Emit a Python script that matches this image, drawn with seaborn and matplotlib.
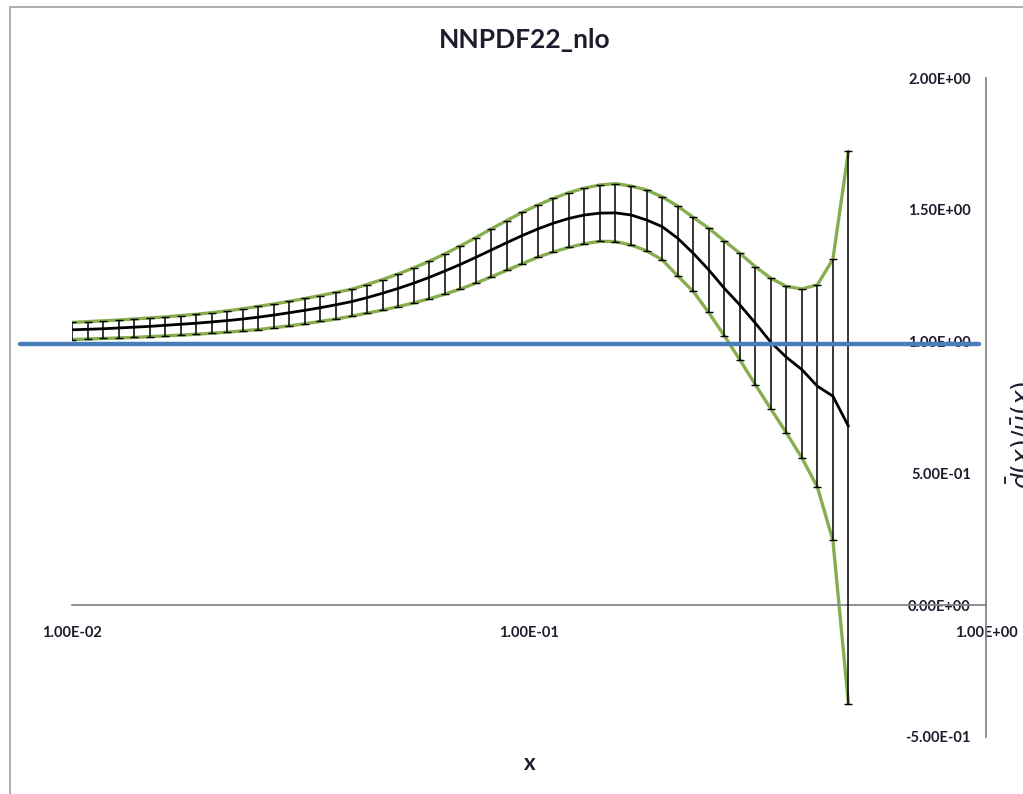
import numpy as np
import pandas as pd
import matplotlib
matplotlib.use("Agg")
import matplotlib.pyplot as plt
import seaborn as sns
from matplotlib.ticker import FixedLocator, FuncFormatter, NullLocator
from matplotlib.lines import Line2D

# ---------------- data ----------------
x_vals = [0.01, 0.010814, 0.011694, 0.012645, 0.013675, 0.014788, 0.015991, 0.017292, 0.018700, 0.020222,
          0.021867, 0.023647, 0.025571, 0.027652, 0.029902, 0.032336, 0.034967, 0.037813, 0.040890, 0.044218,
          0.047818, 0.051709, 0.055917, 0.060468, 0.065389, 0.070710, 0.076465, 0.082687, 0.089416, 0.096693,
          0.104564, 0.113074, 0.122276, 0.132227, 0.142987, 0.154624, 0.167207, 0.180815, 0.195529, 0.211441,
          0.228652, 0.247260, 0.267382, 0.289141, 0.312672, 0.338117, 0.365634, 0.395389, 0.427566, 0.462361,
          0.5]
central = [1.045, 1.047, 1.049, 1.052, 1.055, 1.058, 1.062, 1.066, 1.070, 1.075,
           1.080, 1.086, 1.093, 1.101, 1.110, 1.119, 1.129, 1.140, 1.152, 1.167,
           1.184, 1.202, 1.222, 1.244, 1.268, 1.293, 1.320, 1.348, 1.376, 1.403,
           1.428, 1.450, 1.468, 1.481, 1.488, 1.489, 1.481, 1.462, 1.437, 1.393,
           1.336, 1.273, 1.203, 1.140, 1.071, 0.998, 0.941, 0.894, 0.831, 0.793,
           0.679]
upper = [1.073, 1.076, 1.079, 1.082, 1.086, 1.090, 1.094, 1.099, 1.104, 1.110,
         1.117, 1.125, 1.134, 1.143, 1.153, 1.164, 1.175, 1.187, 1.199, 1.217,
         1.236, 1.257, 1.280, 1.305, 1.333, 1.363, 1.395, 1.428, 1.460, 1.491,
         1.519, 1.544, 1.566, 1.583, 1.595, 1.600, 1.591, 1.576, 1.550, 1.515,
         1.472, 1.431, 1.383, 1.336, 1.285, 1.241, 1.210, 1.200, 1.216, 1.313,
         1.723]
lower = [1.008, 1.010, 1.012, 1.014, 1.016, 1.019, 1.022, 1.025, 1.028, 1.032,
         1.036, 1.041, 1.046, 1.053, 1.060, 1.068, 1.077, 1.086, 1.097, 1.108,
         1.120, 1.133, 1.147, 1.163, 1.180, 1.200, 1.222, 1.246, 1.271, 1.296,
         1.321, 1.341, 1.358, 1.372, 1.381, 1.380, 1.367, 1.345, 1.311, 1.250,
         1.191, 1.111, 1.023, 0.932, 0.837, 0.745, 0.654, 0.559, 0.448, 0.246,
         -0.375]
ref_x = [0.0077, 0.965]
ref_y = [0.99, 0.99]
x_ticks = [0.01, 0.1, 1.0]
y_ticks = [-0.5, 0.0, 0.5, 1.0, 1.5, 2.0]
title = "NNPDF22_nlo"
xlabel = "x"
ylabel = r"$\bar{d}(x)/\bar{u}(x)$"

# ---------------- style ----------------
sns.set_theme(style="white")
plt.rcParams['font.family'] = ['Lato', 'DejaVu Sans']

W, H = 1023, 794
fig = plt.figure(figsize=(W / 100, H / 100), dpi=100)
fig.patch.set_facecolor('white')
ax = fig.add_axes([72 / W, 1 - 736.7 / H, (986 - 72) / W, (736.7 - 78.3) / H])
ax.set_facecolor('none')

df = pd.DataFrame({'x': x_vals, 'central': central, 'upper': upper, 'lower': lower})
green = '#88AD4E'
sns.lineplot(data=df, x='x', y='upper', color=green, lw=2.4, ax=ax, zorder=2)
sns.lineplot(data=df, x='x', y='lower', color=green, lw=2.4, ax=ax, zorder=2)
yerr = [df['central'] - df['lower'], df['upper'] - df['central']]
ax.errorbar(df['x'], df['central'], yerr=yerr, fmt='none', ecolor='black',
            elinewidth=1.1, capsize=2.8, capthick=1.0, zorder=3)
sns.lineplot(data=df, x='x', y='central', color='black', lw=2.0, ax=ax, zorder=4)
ref = pd.DataFrame({'x': ref_x, 'y': ref_y})
sns.lineplot(data=ref, x='x', y='y', color='#4A7EBB', lw=3.2, ax=ax, zorder=5, clip_on=False)

ax.set_xscale('log')
ax.set_xlim(0.01, 1.0)
ax.set_ylim(-0.5, 2.0)
ax.set_xlabel('')
ax.set_ylabel('')
ax.grid(False)

axis_col = '#868686'
for s in ['top', 'right']:
    ax.spines[s].set_visible(False)
ax.spines['left'].set_position(('axes', 1.0))
ax.spines['bottom'].set_position(('data', 0.0))
for s in ['left', 'bottom']:
    ax.spines[s].set_color(axis_col)
    ax.spines[s].set_linewidth(1.3)

ax.xaxis.set_major_locator(FixedLocator(x_ticks))
ax.xaxis.set_minor_locator(NullLocator())
ax.xaxis.set_major_formatter(FuncFormatter(lambda v, p: f"{v:.2E}"))
ax.yaxis.set_major_locator(FixedLocator(y_ticks))
ax.yaxis.set_major_formatter(FuncFormatter(lambda v, p: f"{v:.2E}"))
ax.tick_params(axis='both', which='major', direction='out', length=5, width=1.2,
               color=axis_col, labelsize=10.5, labelcolor='#1c1c2c')
ax.tick_params(axis='x', pad=10)
ax.tick_params(axis='y', pad=6)
for lab in ax.get_xticklabels() + ax.get_yticklabels():
    lab.set_fontweight('bold')

fig.text(525 / W, 1 - 40 / H, title, ha='center', va='center', fontsize=19,
         fontweight='bold', color='#1c1c2c')
fig.text(530 / W, 1 - 763 / H, xlabel, ha='center', va='center', fontsize=16,
         fontweight='bold', color='#1c1c2c')
fig.text(1005 / W, 1 - 435 / H, ylabel, ha='left', va='center', fontsize=18,
         rotation=90, color='#1c1c2c')

# chart frame
fig.add_artist(Line2D([10 / W, 10 / W], [0, 1 - 7 / H], color='#a6a6a6', lw=1.3))
fig.add_artist(Line2D([10 / W, 1], [1 - 7 / H, 1 - 7 / H], color='#a6a6a6', lw=1.3))

fig.savefig('out.png', dpi=100)
